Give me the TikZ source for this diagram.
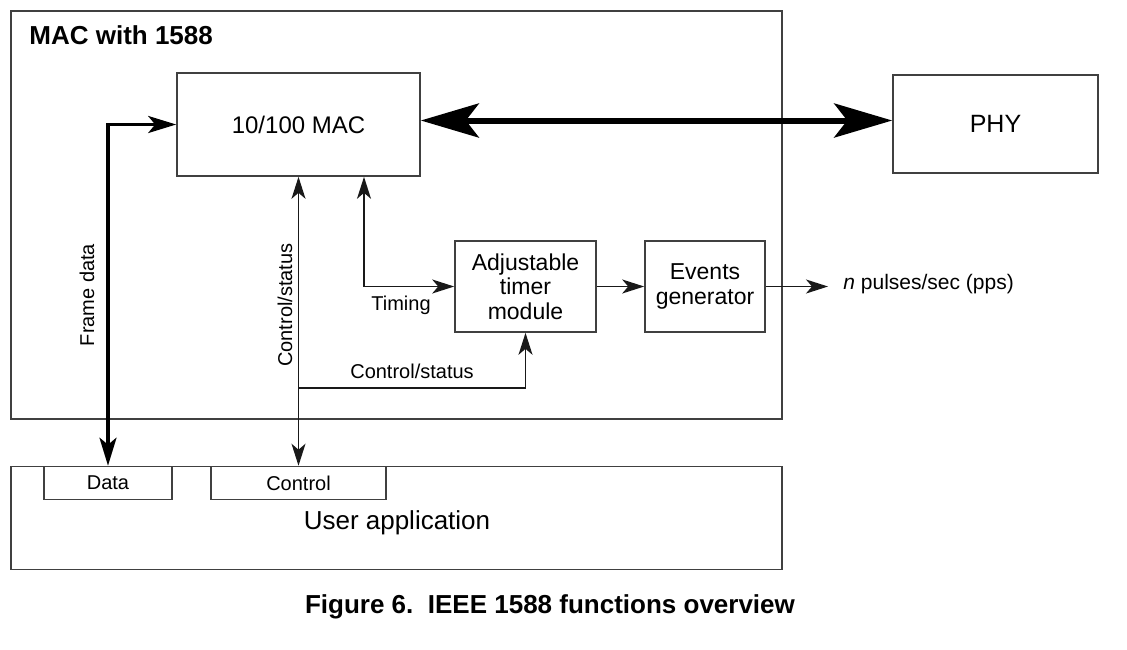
\documentclass[tikz,border=0pt]{standalone}
\usepackage{fontspec}
\setmainfont{Liberation Sans}
\usetikzlibrary{arrows.meta,calc}
\tikzset{
    block/.style = {draw=black!75, line width=0.8pt, rectangle, inner sep=0pt, align=center},
    arrow/.style = {draw=black!90, line width=0.8pt, -{Stealth[length=11pt,width=7pt,inset=3pt]}},
    dblarrow/.style = {draw=black!90, line width=0.8pt, {Stealth[length=11pt,width=7pt,inset=3pt]}-{Stealth[length=11pt,width=7pt,inset=3pt]}},
    fatarrow/.style = {draw=black, line width=1.7pt, {Stealth[length=14pt,width=8.5pt,inset=3.5pt]}-{Stealth[length=14pt,width=8.5pt,inset=3.5pt]}},
    busarrow/.style = {draw=black, line width=3pt, {Stealth[length=29pt,width=17pt,inset=6.5pt]}-{Stealth[length=29pt,width=17pt,inset=6.5pt]}},
    lbl/.style = {font=\fontsize{10}{12}\selectfont, inner sep=0pt}
}
\begin{document}
\begin{tikzpicture}[x=0.5pt,y=-0.5pt]
    \useasboundingbox (0,0) rectangle (1127,649);
    % outer frames
    \node[block, minimum width=385.5pt, minimum height=204pt] (macbox) at (396.5,215) {};
    \node[anchor=base west, inner sep=0pt, font=\fontsize{13}{15}\selectfont\bfseries] (title) at (29,44) {MAC with 1588};
    \node[block, minimum width=385.5pt, minimum height=51.5pt] (userapp) at (396.5,518) {};
    \node[inner sep=0pt, font=\fontsize{13}{15}\selectfont] (usertext) at (397,523) {User application};
    % blocks
    \node[block, minimum width=121.5pt, minimum height=51.5pt, font=\fontsize{12}{14}\selectfont] (mac) at (298.5,124.5) {10/100 MAC};
    \node[block, minimum width=102.5pt, minimum height=49pt, font=\fontsize{12.5}{14}\selectfont] (phy) at (995.5,124) {PHY};
    \node[block, minimum width=70.5pt, minimum height=45.5pt, font=\fontsize{11.5}{12.3}\selectfont] (timer) at (525.5,286.5) {Adjustable\\timer\\module};
    \node[block, minimum width=60pt, minimum height=45.5pt, font=\fontsize{11.5}{12.3}\selectfont] (events) at (705,286.5) {Events\\generator};
    \node[block, minimum width=64pt, minimum height=16.5pt, font=\fontsize{10}{12}\selectfont] (data) at (108,483) {Data};
    \node[block, minimum width=87.5pt, minimum height=16.5pt, font=\fontsize{10}{12}\selectfont] (control) at (298.5,483) {Control};
    % connectors
    \draw[busarrow] ([yshift=2pt]mac.east) -- ([yshift=2pt]mac.east -| phy.west);
    \draw[fatarrow] (data.north) |- (mac.west);
    \draw[dblarrow] (mac.south) -- (control.north);
    \coordinate (tm) at (364,287);
    \draw[dblarrow] (mac.south -| tm) |- (timer.west);
    \coordinate (cs) at (299,388);
    \draw[arrow] (cs) -| (timer.south);
    \draw[arrow] (timer.east) -- (events.west);
    \node[anchor=west, lbl, font=\fontsize{10.5}{12}\selectfont] (pps) at (843,284) {\textit{n} pulses/sec (pps)};
    \draw[arrow] (events.east) -- ([xshift=-7.5pt]pps.west |- events.east);
    % labels
    \node[lbl, rotate=90] (framelbl) at (87,295) {Frame data};
    \node[lbl, rotate=90] (cslbl) at (285,305) {Control/status};
    \node[lbl] (timinglbl) at (401,305) {Timing};
    \node[lbl] (cslbl2) at (412,371) {Control/status};
    % caption
    \node[inner sep=0pt, font=\fontsize{13}{15}\selectfont\bfseries] (caption) at (550,607) {Figure 6.\ \ IEEE 1588 functions overview};
\end{tikzpicture}
\end{document}
